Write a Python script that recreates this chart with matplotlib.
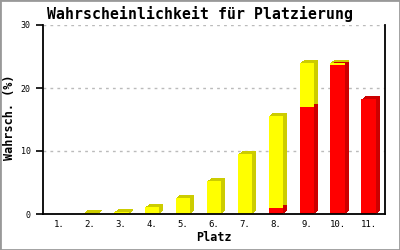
import matplotlib
matplotlib.use("Agg")
import matplotlib.pyplot as plt
import matplotlib.transforms as mtransforms
from matplotlib.patches import Rectangle
import numpy as np

places = ["1.", "2.", "3.", "4.", "5.", "6.", "7.", "8.", "9.", "10.", "11."]
red_vals = [0, 0, 0, 0, 0, 0, 0, 1.0, 17.0, 23.6, 18.2]
yellow_vals = [0, 0.1, 0.3, 1.1, 2.6, 5.2, 9.5, 14.6, 7.0, 0.4, 0]
yticks = [0, 10, 20, 30]

title = "Wahrscheinlichkeit für Platzierung"
xlabel = "Platz"
ylabel = "Wahrsch. (%)"

fig = plt.figure(figsize=(4, 2.5), dpi=100)
ax = fig.add_axes([0.1075, 0.144, 0.855, 0.756])

x = np.arange(1, len(places) + 1)
w = 0.48

# 3D depth faces, built up in small steps
for i in range(1, 5):
    off = mtransforms.offset_copy(ax.transData, fig=fig, x=i, y=0.75 * i, units='dots')
    ax.bar(x, red_vals, width=w, color="#CC0000", transform=off, zorder=2, linewidth=0)
    ax.bar(x, yellow_vals, width=w, bottom=red_vals, color="#CCCC00", transform=off,
           zorder=2, linewidth=0)
# front faces
ax.bar(x, red_vals, width=w, color="#FF0000", zorder=3, linewidth=0)
ax.bar(x, yellow_vals, width=w, bottom=red_vals, color="#FFFF00", zorder=3, linewidth=0)

ax.set_xlim(0.48, 11.52)
ax.set_ylim(0, 30)
ax.set_yticks(yticks)
ax.set_xticks(x)
ax.set_xticklabels(places)
ax.tick_params(axis='x', length=0, pad=4, labelsize=6.5)
ax.tick_params(axis='y', length=5, width=1.2, direction='out', pad=4, labelsize=6)
for lab in ax.get_xticklabels() + ax.get_yticklabels():
    lab.set_family("DejaVu Sans Mono")

ax.yaxis.grid(True, linestyle=(0, (2, 3)), color="#BBBBBB", linewidth=1, zorder=1)
ax.set_axisbelow(True)
for s in ["left", "bottom", "right"]:
    ax.spines[s].set_linewidth(1.3)
    ax.spines[s].set_color("black")
    ax.spines[s].set_zorder(4)
ax.spines["top"].set_visible(False)

fig.text(0.5, 0.945, title, ha="center", va="center", fontsize=10.7,
         family="DejaVu Sans Mono", fontweight="bold")
ax.set_xlabel(xlabel, family="DejaVu Sans Mono", fontweight="bold", fontsize=8.5, labelpad=2)
fig.text(0.025, 0.53, ylabel, rotation=90, ha="center", va="center",
         family="DejaVu Sans Mono", fontweight="bold", fontsize=8.5)

fig.patches.append(Rectangle((0, 0), 1, 1, transform=fig.transFigure, fill=False,
                             edgecolor="#999999", linewidth=2))

fig.savefig("out.png", dpi=100)
